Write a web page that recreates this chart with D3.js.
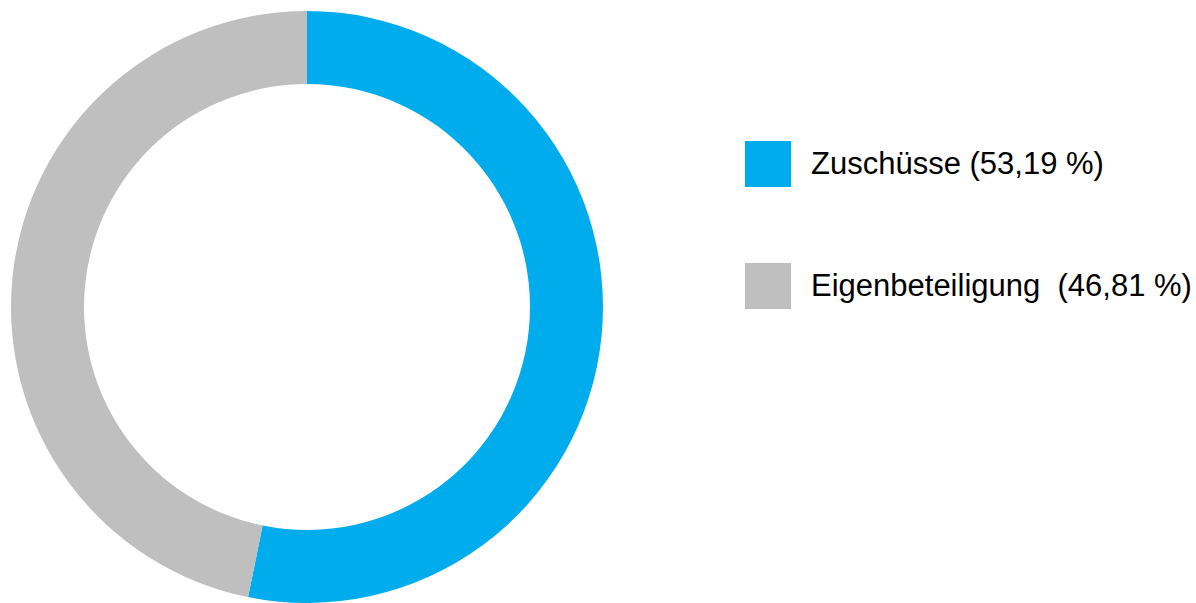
<!DOCTYPE html>
<html>
<head>
<meta charset="utf-8">
<script src="https://cdn.jsdelivr.net/npm/d3@7"></script>
<style>
  html, body { margin: 0; padding: 0; background: #fff; }
  svg { display: block; }
  .legend-text { font-family: "Liberation Sans", Arial, sans-serif; font-size: 31px; fill: #000; white-space: pre; }
</style>
</head>
<body>
<div id="chart"></div>
<script>
const categories = ['Zuschüsse', 'Eigenbeteiligung']
const values = [53.19, 46.81]
const labels = ['Zuschüsse (53,19 %)', 'Eigenbeteiligung  (46,81 %)']
const colors = ['#00ACEC', '#BFBFBF']

const W = 1196, H = 603
const cx = 307, cy = 307
const outerR = 296, innerR = 223

const svg = d3.select('#chart').append('svg')
  .attr('width', W)
  .attr('height', H)

const pie = d3.pie().sort(null).value(d => d)
const arc = d3.arc().innerRadius(innerR).outerRadius(outerR)
const color = d3.scaleOrdinal().domain(categories).range(colors)

svg.append('g')
  .attr('transform', 'translate(' + cx + ',' + cy + ')')
  .selectAll('path')
  .data(pie(values))
  .enter().append('path')
  .attr('d', arc)
  .attr('fill', (d, i) => color(categories[i]))

// legend
const legendY = d3.scaleBand().domain(categories).range([141, 141 + 244]).paddingInner(0)
const legend = svg.append('g').selectAll('g')
  .data(categories)
  .enter().append('g')
  .attr('transform', d => 'translate(745,' + legendY(d) + ')')

legend.append('rect')
  .attr('width', 46)
  .attr('height', 46)
  .attr('fill', d => color(d))

legend.append('text')
  .attr('class', 'legend-text')
  .attr('x', 66)
  .attr('y', 33)
  .text((d, i) => labels[i])
</script>
</body>
</html>
